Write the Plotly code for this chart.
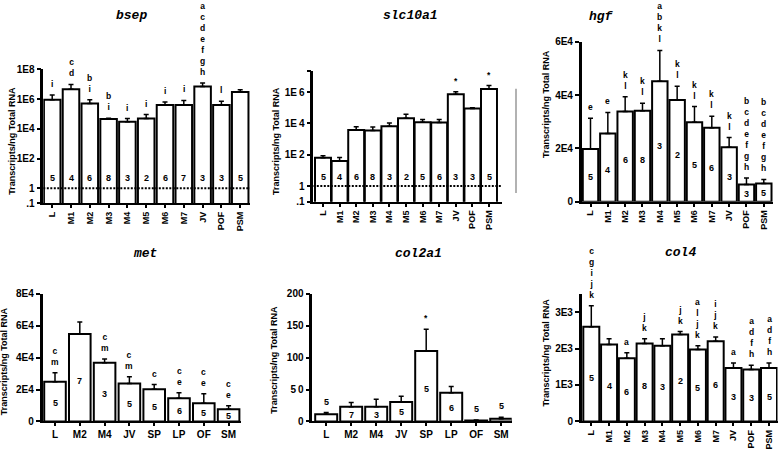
import math
import plotly.graph_objects as go

W, H = 778, 453

# ---------------- data ----------------
bsep_cats = ["L", "M1", "M2", "M3", "M4", "M5", "M6", "M7", "JV", "POF", "PSM"]
bsep_vals = [9e5, 4.5e6, 5e5, 4.5e4, 3e4, 5e4, 4e5, 4e5, 7e6, 4e5, 3e6]
bsep_errs = [1e6, 5e6, 4e5, 6e3, 1.9e4, 4e4, 2.3e5, 4e5, 5e6, 3e5, 1.2e6]
bsep_n = [5, 4, 6, 8, 3, 2, 6, 7, 3, 3, 5]
bsep_letters = [["i"], ["c", "d"], ["b", "i"], ["b", "i"], ["i"], ["i"], ["i"], ["i"],
                ["a", "c", "d", "e", "f", "g", "h"], ["l"], []]

slc_cats = ["L", "M1", "M2", "M3", "M4", "M5", "M6", "M7", "JV", "POF", "PSM"]
slc_vals = [65, 40, 3.8e3, 3.6e3, 6.5e3, 2.1e4, 1.2e4, 1.15e4, 7.2e5, 9e4, 1.6e6]
slc_errs = [22, 28, 2.4e3, 2.3e3, 4e3, 1.7e4, 6e3, 6e3, 3.3e5, 1e4, 1e6]
slc_n = [5, 4, 6, 8, 3, 2, 5, 6, 3, 3, 5]
slc_letters = [[], [], [], [], [], [], [], [], ["*"], [], ["*"]]

hgf_cats = ["L", "M1", "M2", "M3", "M4", "M5", "M6", "M7", "JV", "POF", "PSM"]
hgf_vals = [19800, 25560, 33830, 34080, 45150, 38100, 29800, 27750, 20450, 6460, 6830]
hgf_errs = [11500, 7900, 5500, 2800, 11600, 5200, 5900, 4300, 3600, 2400, 1500]
hgf_n = [5, 4, 6, 8, 3, 2, 5, 6, 3, 3, 5]
hgf_letters = [["e"], ["e"], ["k", "l"], ["k", "l"], ["a", "b", "k", "l"], ["k", "l"],
               ["k", "l"], ["k", "l"], ["k", "l"],
               ["b", "c", "d", "e", "f", "g", "h"], ["b", "c", "d", "e", "f", "g", "h"]]

met_cats = ["L", "M2", "M4", "JV", "SP", "LP", "OF", "SM"]
met_vals = [24800, 54900, 36800, 23800, 20100, 14600, 11400, 7700]
met_errs = [5700, 7500, 2400, 4200, 3000, 3300, 5900, 2100]
met_n = [5, 7, 3, 5, 5, 6, 5, 5]
met_letters = [["c", "m"], [], ["c", "m"], ["c", "m"], ["c"], ["c", "e"], ["c", "e"], ["c", "e"]]

col2_cats = ["L", "M2", "M4", "JV", "SP", "LP", "OF", "SM"]
col2_vals = [11.3, 23, 23, 30.6, 110.4, 44.8, 1.5, 4.1]
col2_errs = [2.5, 6.6, 11.7, 9, 34, 10, 0.8, 2.5]
col2_n = [5, 7, 3, 5, 5, 6, 5, 5]
col2_letters = [[], [], [], [], ["*"], [], [], []]

col4_cats = ["L", "M1", "M2", "M3", "M4", "M5", "M6", "M7", "JV", "POF", "PSM"]
col4_vals = [2599, 2108, 1735, 2135, 2074, 2386, 1975, 2199, 1468, 1425, 1468]
col4_errs = [577, 160, 152, 133, 194, 80, 100, 115, 133, 115, 133]
col4_n = [5, 4, 6, 8, 3, 2, 5, 6, 3, 3, 5]
col4_letters = [["c", "g", "i", "j", "k"], [], ["a"], ["j", "k"], [], ["j", "k"],
                ["a", "l", "j", "k"], ["i", "j", "k"], ["a"], ["a", "d", "f", "h"], ["a", "d", "f", "h"]]

titles = ["bsep", "slc10a1", "hgf", "met", "col2a1", "col4"]
ytitle = "Transcripts/ng Total RNA"
baseline_level = 1  # dotted reference line on the log panels

T = "\u2009"
panels = [
    dict(cats=bsep_cats, vals=bsep_vals, errs=bsep_errs, n=bsep_n, letters=bsep_letters,
         log=True, yrange=[-1, 8], tickvals=[0.1, 1, 1e2, 1e4, 1e6, 1e8],
         ticktext=[".1", "1", "1E2", "1E4", "1E6", "1E8"],
         ax=(43.3, 250), c0=52.2, sp=18.8, bw=0.88, ytop=65, ybot=202.5, ny=0.72, rot=True,
         title_xy=(131, 10), ytitle_xy=(12, 138.5)),
    dict(cats=slc_cats, vals=slc_vals, errs=slc_errs, n=slc_n, letters=slc_letters,
         log=True, yrange=[-1, 7.35], tickvals=[0.1, 1, 1e2, 1e4, 1e6, 10 ** 7.35],
         ticktext=[".1", "1", "1E" + T + "2", "1E" + T + "4", "1E" + T + "6", ""],
         ax=(313.3, 501.7), c0=323, sp=16.6, bw=0.96, ytop=66.7, ybot=201.1, ny=0.56, rot=True,
         title_xy=(410.5, 10), ytitle_xy=(276.7, 139)),
    dict(cats=hgf_cats, vals=hgf_vals, errs=hgf_errs, n=hgf_n, letters=hgf_letters,
         log=False, yrange=[0, 6e4], tickvals=[0, 2e4, 4e4, 6e4],
         ticktext=["0", "2E4", "4E4", "6E4"],
         ax=(581.7, 773.3), c0=590.5, sp=17.33, bw=0.89, ytop=36.7, ybot=201, rot=True,
         title_xy=(601, 10.7), ytitle_xy=(546.7, 101)),
    dict(cats=met_cats, vals=met_vals, errs=met_errs, n=met_n, letters=met_letters,
         log=False, yrange=[0, 8e4], tickvals=[0, 2e4, 4e4, 6e4, 8e4],
         ticktext=["0", "2E4", "4E4", "6E4", "8E4"],
         ax=(42.6, 241), c0=55, sp=24.8, bw=0.87, ytop=295.7, ybot=426.7, rot=False,
         title_xy=(145, 254.3), ytitle_xy=(4, 365)),
    dict(cats=col2_cats, vals=col2_vals, errs=col2_errs, n=col2_n, letters=col2_letters,
         log=False, yrange=[0, 200], tickvals=[0, 50, 100, 150, 200],
         ticktext=["0", "5" + T + "0", "100", "150", "200"],
         ax=(312.3, 511.7), c0=326.2, sp=25.0, bw=0.88, ytop=295.7, ybot=426.7, rot=False,
         title_xy=(418, 254.3), ytitle_xy=(274, 363.5)),
    dict(cats=col4_cats, vals=col4_vals, errs=col4_errs, n=col4_n, letters=col4_letters,
         log=False, yrange=[0, 3500], tickvals=[0, 1000, 2000, 3000],
         ticktext=["0", "1E3", "2E3", "3E3"],
         ax=(581.7, 777.5), c0=591.3, sp=17.77, bw=0.9, ytop=295.7, ybot=426.7, rot=True,
         title_xy=(680, 253.3), ytitle_xy=(546, 356)),
]

FONT = "Arial, Liberation Sans, sans-serif"
fig = go.Figure()
annotations = []
shapes = []
layout = {}
extra_ax = 7

for i, p in enumerate(panels, start=1):
    sfx = "" if i == 1 else str(i)
    xid, yid = "x" + sfx, "y" + sfx
    k = len(p["cats"])
    fig.add_trace(go.Bar(
        x=p["cats"], y=p["vals"], xaxis=xid, yaxis=yid, width=p["bw"],
        marker=dict(color="white", line=dict(color="black", width=2)),
        error_y=dict(type="data", array=p["errs"], arrayminus=[0] * k, symmetric=False,
                     color="black", thickness=1.5, width=2.5),
        showlegend=False, hoverinfo="skip"))
    ax0, ax1 = p["ax"]
    xr = [-(p["c0"] - ax0) / p["sp"], (ax1 - p["c0"]) / p["sp"]]
    layout["xaxis" + sfx] = dict(
        domain=[ax0 / W, ax1 / W], anchor=yid, type="category", range=xr,
        showline=True, linewidth=2, linecolor="black", ticks="outside", ticklen=3,
        tickwidth=1.5, tickcolor="black", showgrid=False, zeroline=False,
        tickangle=-90 if p["rot"] else 0,
        tickfont=dict(family=FONT, size=9 if p["rot"] else 10, color="black", weight="bold"))
    layout["yaxis" + sfx] = dict(
        domain=[1 - p["ybot"] / H, 1 - p["ytop"] / H], anchor=xid,
        type="log" if p["log"] else "linear", range=p["yrange"],
        tickvals=p["tickvals"], ticktext=p["ticktext"],
        showline=True, linewidth=2.5, linecolor="black", ticks="outside", ticklen=4,
        tickwidth=1.5, tickcolor="black", showgrid=False, zeroline=False,
        tickfont=dict(family=FONT, size=10, color="black", weight="bold"))

    if p["log"]:
        # dotted line at 1 transcript across the panel, on an invisible overlaying x axis
        ox = "x" + str(extra_ax)
        layout["xaxis" + str(extra_ax)] = dict(
            domain=[ax0 / W, ax1 / W], anchor=yid, overlaying=xid, type="linear",
            range=[0, 1], visible=False, showgrid=False, zeroline=False)
        fig.add_trace(go.Scatter(
            x=[0, 1], y=[baseline_level, baseline_level], xaxis=ox, yaxis=yid,
            mode="lines", line=dict(color="black", width=2, dash="2px,1.5px"),
            showlegend=False, hoverinfo="skip"))
        extra_ax += 1

    ymax = p["yrange"][1]
    nfont = dict(family=FONT, size=9, color="black", weight="bold")
    for j, c in enumerate(p["cats"]):
        v, e = p["vals"][j], p["errs"][j]
        top = math.log10(v + e) if p["log"] else v + e
        # n labels
        if p["log"]:
            annotations.append(dict(x=c, y=p["ny"], xref=xid, yref=yid, text=str(p["n"][j]),
                                    xanchor="center", yanchor="middle", showarrow=False, font=nfont))
        elif v > 0.08 * ymax:
            annotations.append(dict(x=c, y=v * 0.46, xref=xid, yref=yid, text=str(p["n"][j]),
                                    xanchor="center", yanchor="middle", showarrow=False, font=nfont))
        else:
            annotations.append(dict(x=c, y=top, xref=xid, yref=yid, text=str(p["n"][j]),
                                    xanchor="center", yanchor="bottom", yshift=4, showarrow=False,
                                    font=nfont))
        # letters
        if p["letters"][j]:
            annotations.append(dict(x=c, y=top, xref=xid, yref=yid,
                                    text="<br>".join(p["letters"][j]), xanchor="center",
                                    yanchor="bottom", yshift=4, showarrow=False,
                                    font=dict(family=FONT, size=8.5, color="black", weight="bold")))
    tx, ty = p["title_xy"]
    annotations.append(dict(x=tx / W, y=1 - ty / H, xref="paper", yref="paper",
                            xanchor="center", yanchor="middle",
                            text="<b><i>" + titles[i - 1] + "</i></b>", showarrow=False,
                            font=dict(family="Liberation Mono, Courier New, monospace", size=13, color="black")))
    yx, yy = p["ytitle_xy"]
    annotations.append(dict(x=yx / W, y=1 - yy / H, xref="paper", yref="paper", text=ytitle,
                            xanchor="center", yanchor="middle",
                            textangle=-90, showarrow=False,
                            font=dict(family=FONT, size=9, color="black", weight="bold")))

shapes.append(dict(type="line", xref="paper", yref="paper", x0=516 / W, x1=516 / W,
                   y0=1 - 192 / H, y1=1 - 85 / H, line=dict(color="#999999", width=1.5)))

fig.update_layout(width=W, height=H, margin=dict(l=0, r=0, t=0, b=0), autosize=False,
                  paper_bgcolor="white", plot_bgcolor="white",
                  annotations=annotations, shapes=shapes, **layout)
fig.write_html("out.html", config={"displayModeBar": False},
               post_script="document.body.style.margin='0';document.body.style.overflow='hidden';")
